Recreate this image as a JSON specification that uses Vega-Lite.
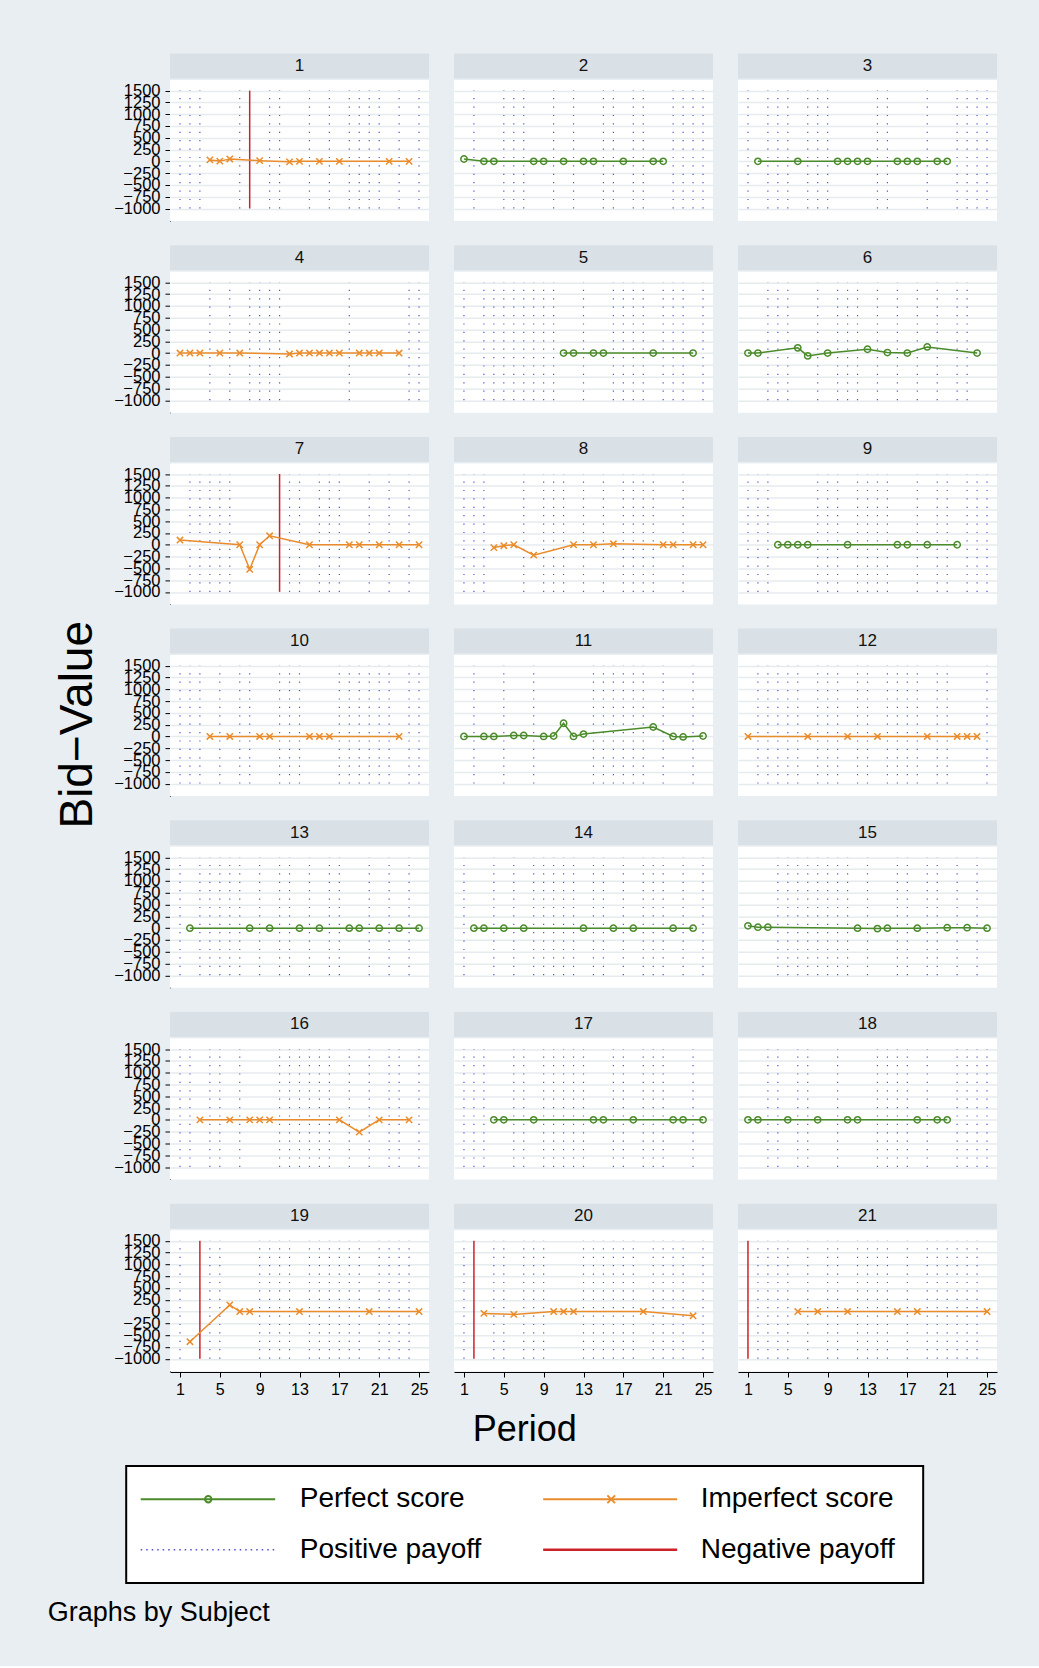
{
"$schema": "https://vega.github.io/schema/vega-lite/v6.json",
"background": "#e9eef2",
"padding": {"left": 47, "top": 52, "right": 0, "bottom": 40},
"config": {
  "font": "Liberation Sans",
  "view": {"fill": "white", "stroke": null},
  "axis": {"labelFont": "Liberation Sans", "labelColor": "#000000", "domainColor": "#000000", "tickColor": "#000000", "domainWidth": 1, "tickWidth": 1, "tickSize": 5, "labelOverlap": false, "labelFlush": false, "labelBound": false},
  "axisX": {"grid": false, "labelFontSize": 16, "labelPadding": 4},
  "axisY": {"grid": true, "gridColor": "#e6ebee", "gridWidth": 1.5, "labelFontSize": 16.5, "labelPadding": 5},
  "title": {"color": "#000000", "fontWeight": "normal", "font": "Liberation Sans"},
  "text": {"font": "Liberation Sans"}
},
"title": {"text": "Graphs by Subject", "orient": "bottom", "anchor": "start", "fontSize": 27, "offset": 16, "dx": -7},
"datasets": {
"legend": [
{"series":"perfect","label":"Perfect score","kind":"score"},
{"series":"imperfect","label":"Imperfect score","kind":"score"},
{"series":"positive","label":"Positive payoff","kind":"payoff"},
{"series":"negative","label":"Negative payoff","kind":"payoff"}
],
"panels": [
{"subject":1,"period":4,"series":"imperfect","bid":30},
{"subject":1,"period":5,"series":"imperfect","bid":5},
{"subject":1,"period":6,"series":"imperfect","bid":50},
{"subject":1,"period":9,"series":"imperfect","bid":15},
{"subject":1,"period":12,"series":"imperfect","bid":-10},
{"subject":1,"period":13,"series":"imperfect","bid":0},
{"subject":1,"period":15,"series":"imperfect","bid":0},
{"subject":1,"period":17,"series":"imperfect","bid":0},
{"subject":1,"period":22,"series":"imperfect","bid":0},
{"subject":1,"period":24,"series":"imperfect","bid":0},
{"subject":1,"period":1,"series":"positive"},
{"subject":1,"period":2,"series":"positive"},
{"subject":1,"period":3,"series":"positive"},
{"subject":1,"period":7,"series":"positive"},
{"subject":1,"period":8,"series":"negative"},
{"subject":1,"period":10,"series":"positive"},
{"subject":1,"period":11,"series":"positive"},
{"subject":1,"period":14,"series":"positive"},
{"subject":1,"period":16,"series":"positive"},
{"subject":1,"period":18,"series":"positive"},
{"subject":1,"period":19,"series":"positive"},
{"subject":1,"period":20,"series":"positive"},
{"subject":1,"period":21,"series":"positive"},
{"subject":1,"period":23,"series":"positive"},
{"subject":1,"period":25,"series":"positive"},

{"subject":2,"period":1,"series":"perfect","bid":50},
{"subject":2,"period":3,"series":"perfect","bid":0},
{"subject":2,"period":4,"series":"perfect","bid":0},
{"subject":2,"period":8,"series":"perfect","bid":0},
{"subject":2,"period":9,"series":"perfect","bid":0},
{"subject":2,"period":11,"series":"perfect","bid":0},
{"subject":2,"period":13,"series":"perfect","bid":0},
{"subject":2,"period":14,"series":"perfect","bid":0},
{"subject":2,"period":17,"series":"perfect","bid":0},
{"subject":2,"period":20,"series":"perfect","bid":0},
{"subject":2,"period":21,"series":"perfect","bid":0},
{"subject":2,"period":2,"series":"positive"},
{"subject":2,"period":5,"series":"positive"},
{"subject":2,"period":6,"series":"positive"},
{"subject":2,"period":7,"series":"positive"},
{"subject":2,"period":10,"series":"positive"},
{"subject":2,"period":12,"series":"positive"},
{"subject":2,"period":15,"series":"positive"},
{"subject":2,"period":16,"series":"positive"},
{"subject":2,"period":18,"series":"positive"},
{"subject":2,"period":19,"series":"positive"},
{"subject":2,"period":22,"series":"positive"},
{"subject":2,"period":23,"series":"positive"},
{"subject":2,"period":24,"series":"positive"},
{"subject":2,"period":25,"series":"positive"},

{"subject":3,"period":2,"series":"perfect","bid":0},
{"subject":3,"period":6,"series":"perfect","bid":0},
{"subject":3,"period":10,"series":"perfect","bid":0},
{"subject":3,"period":11,"series":"perfect","bid":0},
{"subject":3,"period":12,"series":"perfect","bid":0},
{"subject":3,"period":13,"series":"perfect","bid":0},
{"subject":3,"period":16,"series":"perfect","bid":0},
{"subject":3,"period":17,"series":"perfect","bid":0},
{"subject":3,"period":18,"series":"perfect","bid":0},
{"subject":3,"period":20,"series":"perfect","bid":0},
{"subject":3,"period":21,"series":"perfect","bid":0},
{"subject":3,"period":1,"series":"positive"},
{"subject":3,"period":3,"series":"positive"},
{"subject":3,"period":4,"series":"positive"},
{"subject":3,"period":5,"series":"positive"},
{"subject":3,"period":7,"series":"positive"},
{"subject":3,"period":8,"series":"positive"},
{"subject":3,"period":9,"series":"positive"},
{"subject":3,"period":14,"series":"positive"},
{"subject":3,"period":15,"series":"positive"},
{"subject":3,"period":19,"series":"positive"},
{"subject":3,"period":22,"series":"positive"},
{"subject":3,"period":23,"series":"positive"},
{"subject":3,"period":24,"series":"positive"},
{"subject":3,"period":25,"series":"positive"},

{"subject":4,"period":1,"series":"imperfect","bid":0},
{"subject":4,"period":2,"series":"imperfect","bid":0},
{"subject":4,"period":3,"series":"imperfect","bid":0},
{"subject":4,"period":5,"series":"imperfect","bid":0},
{"subject":4,"period":7,"series":"imperfect","bid":0},
{"subject":4,"period":12,"series":"imperfect","bid":-20},
{"subject":4,"period":13,"series":"imperfect","bid":0},
{"subject":4,"period":14,"series":"imperfect","bid":0},
{"subject":4,"period":15,"series":"imperfect","bid":0},
{"subject":4,"period":16,"series":"imperfect","bid":0},
{"subject":4,"period":17,"series":"imperfect","bid":0},
{"subject":4,"period":19,"series":"imperfect","bid":0},
{"subject":4,"period":20,"series":"imperfect","bid":0},
{"subject":4,"period":21,"series":"imperfect","bid":0},
{"subject":4,"period":23,"series":"imperfect","bid":0},
{"subject":4,"period":4,"series":"positive"},
{"subject":4,"period":6,"series":"positive"},
{"subject":4,"period":8,"series":"positive"},
{"subject":4,"period":9,"series":"positive"},
{"subject":4,"period":10,"series":"positive"},
{"subject":4,"period":11,"series":"positive"},
{"subject":4,"period":18,"series":"positive"},
{"subject":4,"period":24,"series":"positive"},
{"subject":4,"period":25,"series":"positive"},

{"subject":5,"period":11,"series":"perfect","bid":0},
{"subject":5,"period":12,"series":"perfect","bid":0},
{"subject":5,"period":14,"series":"perfect","bid":0},
{"subject":5,"period":15,"series":"perfect","bid":0},
{"subject":5,"period":20,"series":"perfect","bid":0},
{"subject":5,"period":24,"series":"perfect","bid":0},
{"subject":5,"period":1,"series":"positive"},
{"subject":5,"period":3,"series":"positive"},
{"subject":5,"period":4,"series":"positive"},
{"subject":5,"period":5,"series":"positive"},
{"subject":5,"period":6,"series":"positive"},
{"subject":5,"period":7,"series":"positive"},
{"subject":5,"period":8,"series":"positive"},
{"subject":5,"period":9,"series":"positive"},
{"subject":5,"period":10,"series":"positive"},
{"subject":5,"period":13,"series":"positive"},
{"subject":5,"period":16,"series":"positive"},
{"subject":5,"period":17,"series":"positive"},
{"subject":5,"period":18,"series":"positive"},
{"subject":5,"period":19,"series":"positive"},
{"subject":5,"period":21,"series":"positive"},
{"subject":5,"period":22,"series":"positive"},
{"subject":5,"period":23,"series":"positive"},
{"subject":5,"period":25,"series":"positive"},

{"subject":6,"period":1,"series":"perfect","bid":0},
{"subject":6,"period":2,"series":"perfect","bid":0},
{"subject":6,"period":6,"series":"perfect","bid":110},
{"subject":6,"period":7,"series":"perfect","bid":-60},
{"subject":6,"period":9,"series":"perfect","bid":0},
{"subject":6,"period":13,"series":"perfect","bid":80},
{"subject":6,"period":15,"series":"perfect","bid":10},
{"subject":6,"period":17,"series":"perfect","bid":0},
{"subject":6,"period":19,"series":"perfect","bid":130},
{"subject":6,"period":24,"series":"perfect","bid":0},
{"subject":6,"period":3,"series":"positive"},
{"subject":6,"period":4,"series":"positive"},
{"subject":6,"period":5,"series":"positive"},
{"subject":6,"period":8,"series":"positive"},
{"subject":6,"period":10,"series":"positive"},
{"subject":6,"period":11,"series":"positive"},
{"subject":6,"period":12,"series":"positive"},
{"subject":6,"period":14,"series":"positive"},
{"subject":6,"period":16,"series":"positive"},
{"subject":6,"period":18,"series":"positive"},
{"subject":6,"period":20,"series":"positive"},
{"subject":6,"period":22,"series":"positive"},
{"subject":6,"period":23,"series":"positive"},

{"subject":7,"period":1,"series":"imperfect","bid":100},
{"subject":7,"period":7,"series":"imperfect","bid":0},
{"subject":7,"period":8,"series":"imperfect","bid":-520},
{"subject":7,"period":9,"series":"imperfect","bid":0},
{"subject":7,"period":10,"series":"imperfect","bid":190},
{"subject":7,"period":14,"series":"imperfect","bid":0},
{"subject":7,"period":18,"series":"imperfect","bid":0},
{"subject":7,"period":19,"series":"imperfect","bid":0},
{"subject":7,"period":21,"series":"imperfect","bid":0},
{"subject":7,"period":23,"series":"imperfect","bid":0},
{"subject":7,"period":25,"series":"imperfect","bid":0},
{"subject":7,"period":2,"series":"positive"},
{"subject":7,"period":3,"series":"positive"},
{"subject":7,"period":4,"series":"positive"},
{"subject":7,"period":5,"series":"positive"},
{"subject":7,"period":6,"series":"positive"},
{"subject":7,"period":11,"series":"negative"},
{"subject":7,"period":12,"series":"positive"},
{"subject":7,"period":13,"series":"positive"},
{"subject":7,"period":15,"series":"positive"},
{"subject":7,"period":16,"series":"positive"},
{"subject":7,"period":17,"series":"positive"},
{"subject":7,"period":20,"series":"positive"},
{"subject":7,"period":22,"series":"positive"},
{"subject":7,"period":24,"series":"positive"},

{"subject":8,"period":4,"series":"imperfect","bid":-60},
{"subject":8,"period":5,"series":"imperfect","bid":-20},
{"subject":8,"period":6,"series":"imperfect","bid":0},
{"subject":8,"period":8,"series":"imperfect","bid":-220},
{"subject":8,"period":12,"series":"imperfect","bid":0},
{"subject":8,"period":14,"series":"imperfect","bid":0},
{"subject":8,"period":16,"series":"imperfect","bid":20},
{"subject":8,"period":21,"series":"imperfect","bid":0},
{"subject":8,"period":22,"series":"imperfect","bid":0},
{"subject":8,"period":24,"series":"imperfect","bid":0},
{"subject":8,"period":25,"series":"imperfect","bid":0},
{"subject":8,"period":1,"series":"positive"},
{"subject":8,"period":2,"series":"positive"},
{"subject":8,"period":3,"series":"positive"},
{"subject":8,"period":7,"series":"positive"},
{"subject":8,"period":9,"series":"positive"},
{"subject":8,"period":10,"series":"positive"},
{"subject":8,"period":11,"series":"positive"},
{"subject":8,"period":13,"series":"positive"},
{"subject":8,"period":15,"series":"positive"},
{"subject":8,"period":17,"series":"positive"},
{"subject":8,"period":18,"series":"positive"},
{"subject":8,"period":19,"series":"positive"},
{"subject":8,"period":20,"series":"positive"},
{"subject":8,"period":23,"series":"positive"},

{"subject":9,"period":4,"series":"perfect","bid":0},
{"subject":9,"period":5,"series":"perfect","bid":0},
{"subject":9,"period":6,"series":"perfect","bid":0},
{"subject":9,"period":7,"series":"perfect","bid":0},
{"subject":9,"period":11,"series":"perfect","bid":0},
{"subject":9,"period":16,"series":"perfect","bid":0},
{"subject":9,"period":17,"series":"perfect","bid":0},
{"subject":9,"period":19,"series":"perfect","bid":0},
{"subject":9,"period":22,"series":"perfect","bid":0},
{"subject":9,"period":1,"series":"positive"},
{"subject":9,"period":2,"series":"positive"},
{"subject":9,"period":3,"series":"positive"},
{"subject":9,"period":8,"series":"positive"},
{"subject":9,"period":9,"series":"positive"},
{"subject":9,"period":10,"series":"positive"},
{"subject":9,"period":12,"series":"positive"},
{"subject":9,"period":13,"series":"positive"},
{"subject":9,"period":14,"series":"positive"},
{"subject":9,"period":15,"series":"positive"},
{"subject":9,"period":18,"series":"positive"},
{"subject":9,"period":20,"series":"positive"},
{"subject":9,"period":21,"series":"positive"},
{"subject":9,"period":23,"series":"positive"},
{"subject":9,"period":24,"series":"positive"},
{"subject":9,"period":25,"series":"positive"},

{"subject":10,"period":4,"series":"imperfect","bid":0},
{"subject":10,"period":6,"series":"imperfect","bid":0},
{"subject":10,"period":9,"series":"imperfect","bid":0},
{"subject":10,"period":10,"series":"imperfect","bid":0},
{"subject":10,"period":14,"series":"imperfect","bid":0},
{"subject":10,"period":15,"series":"imperfect","bid":0},
{"subject":10,"period":16,"series":"imperfect","bid":0},
{"subject":10,"period":23,"series":"imperfect","bid":0},
{"subject":10,"period":1,"series":"positive"},
{"subject":10,"period":2,"series":"positive"},
{"subject":10,"period":3,"series":"positive"},
{"subject":10,"period":5,"series":"positive"},
{"subject":10,"period":7,"series":"positive"},
{"subject":10,"period":8,"series":"positive"},
{"subject":10,"period":11,"series":"positive"},
{"subject":10,"period":12,"series":"positive"},
{"subject":10,"period":13,"series":"positive"},
{"subject":10,"period":17,"series":"positive"},
{"subject":10,"period":18,"series":"positive"},
{"subject":10,"period":19,"series":"positive"},
{"subject":10,"period":20,"series":"positive"},
{"subject":10,"period":21,"series":"positive"},
{"subject":10,"period":22,"series":"positive"},
{"subject":10,"period":24,"series":"positive"},
{"subject":10,"period":25,"series":"positive"},

{"subject":11,"period":1,"series":"perfect","bid":0},
{"subject":11,"period":3,"series":"perfect","bid":0},
{"subject":11,"period":4,"series":"perfect","bid":0},
{"subject":11,"period":6,"series":"perfect","bid":20},
{"subject":11,"period":7,"series":"perfect","bid":20},
{"subject":11,"period":9,"series":"perfect","bid":0},
{"subject":11,"period":10,"series":"perfect","bid":10},
{"subject":11,"period":11,"series":"perfect","bid":280},
{"subject":11,"period":12,"series":"perfect","bid":0},
{"subject":11,"period":13,"series":"perfect","bid":50},
{"subject":11,"period":20,"series":"perfect","bid":200},
{"subject":11,"period":22,"series":"perfect","bid":0},
{"subject":11,"period":23,"series":"perfect","bid":-10},
{"subject":11,"period":25,"series":"perfect","bid":10},
{"subject":11,"period":2,"series":"positive"},
{"subject":11,"period":5,"series":"positive"},
{"subject":11,"period":8,"series":"positive"},
{"subject":11,"period":14,"series":"positive"},
{"subject":11,"period":15,"series":"positive"},
{"subject":11,"period":16,"series":"positive"},
{"subject":11,"period":17,"series":"positive"},
{"subject":11,"period":18,"series":"positive"},
{"subject":11,"period":19,"series":"positive"},
{"subject":11,"period":21,"series":"positive"},
{"subject":11,"period":24,"series":"positive"},

{"subject":12,"period":1,"series":"imperfect","bid":0},
{"subject":12,"period":7,"series":"imperfect","bid":0},
{"subject":12,"period":11,"series":"imperfect","bid":0},
{"subject":12,"period":14,"series":"imperfect","bid":0},
{"subject":12,"period":19,"series":"imperfect","bid":0},
{"subject":12,"period":22,"series":"imperfect","bid":0},
{"subject":12,"period":23,"series":"imperfect","bid":0},
{"subject":12,"period":24,"series":"imperfect","bid":0},
{"subject":12,"period":2,"series":"positive"},
{"subject":12,"period":3,"series":"positive"},
{"subject":12,"period":4,"series":"positive"},
{"subject":12,"period":5,"series":"positive"},
{"subject":12,"period":6,"series":"positive"},
{"subject":12,"period":8,"series":"positive"},
{"subject":12,"period":9,"series":"positive"},
{"subject":12,"period":10,"series":"positive"},
{"subject":12,"period":12,"series":"positive"},
{"subject":12,"period":13,"series":"positive"},
{"subject":12,"period":15,"series":"positive"},
{"subject":12,"period":16,"series":"positive"},
{"subject":12,"period":17,"series":"positive"},
{"subject":12,"period":18,"series":"positive"},
{"subject":12,"period":20,"series":"positive"},
{"subject":12,"period":21,"series":"positive"},
{"subject":12,"period":25,"series":"positive"},

{"subject":13,"period":2,"series":"perfect","bid":0},
{"subject":13,"period":8,"series":"perfect","bid":0},
{"subject":13,"period":10,"series":"perfect","bid":0},
{"subject":13,"period":13,"series":"perfect","bid":0},
{"subject":13,"period":15,"series":"perfect","bid":0},
{"subject":13,"period":18,"series":"perfect","bid":0},
{"subject":13,"period":19,"series":"perfect","bid":0},
{"subject":13,"period":21,"series":"perfect","bid":0},
{"subject":13,"period":23,"series":"perfect","bid":0},
{"subject":13,"period":25,"series":"perfect","bid":0},
{"subject":13,"period":1,"series":"positive"},
{"subject":13,"period":3,"series":"positive"},
{"subject":13,"period":4,"series":"positive"},
{"subject":13,"period":5,"series":"positive"},
{"subject":13,"period":6,"series":"positive"},
{"subject":13,"period":7,"series":"positive"},
{"subject":13,"period":9,"series":"positive"},
{"subject":13,"period":11,"series":"positive"},
{"subject":13,"period":12,"series":"positive"},
{"subject":13,"period":14,"series":"positive"},
{"subject":13,"period":16,"series":"positive"},
{"subject":13,"period":17,"series":"positive"},
{"subject":13,"period":20,"series":"positive"},
{"subject":13,"period":22,"series":"positive"},
{"subject":13,"period":24,"series":"positive"},

{"subject":14,"period":2,"series":"perfect","bid":0},
{"subject":14,"period":3,"series":"perfect","bid":0},
{"subject":14,"period":5,"series":"perfect","bid":0},
{"subject":14,"period":7,"series":"perfect","bid":0},
{"subject":14,"period":13,"series":"perfect","bid":0},
{"subject":14,"period":16,"series":"perfect","bid":0},
{"subject":14,"period":18,"series":"perfect","bid":0},
{"subject":14,"period":22,"series":"perfect","bid":0},
{"subject":14,"period":24,"series":"perfect","bid":0},
{"subject":14,"period":1,"series":"positive"},
{"subject":14,"period":4,"series":"positive"},
{"subject":14,"period":6,"series":"positive"},
{"subject":14,"period":8,"series":"positive"},
{"subject":14,"period":9,"series":"positive"},
{"subject":14,"period":10,"series":"positive"},
{"subject":14,"period":11,"series":"positive"},
{"subject":14,"period":12,"series":"positive"},
{"subject":14,"period":14,"series":"positive"},
{"subject":14,"period":15,"series":"positive"},
{"subject":14,"period":17,"series":"positive"},
{"subject":14,"period":19,"series":"positive"},
{"subject":14,"period":20,"series":"positive"},
{"subject":14,"period":21,"series":"positive"},
{"subject":14,"period":23,"series":"positive"},
{"subject":14,"period":25,"series":"positive"},

{"subject":15,"period":1,"series":"perfect","bid":50},
{"subject":15,"period":2,"series":"perfect","bid":20},
{"subject":15,"period":3,"series":"perfect","bid":20},
{"subject":15,"period":12,"series":"perfect","bid":0},
{"subject":15,"period":14,"series":"perfect","bid":-10},
{"subject":15,"period":15,"series":"perfect","bid":0},
{"subject":15,"period":18,"series":"perfect","bid":0},
{"subject":15,"period":21,"series":"perfect","bid":10},
{"subject":15,"period":23,"series":"perfect","bid":10},
{"subject":15,"period":25,"series":"perfect","bid":0},
{"subject":15,"period":4,"series":"positive"},
{"subject":15,"period":5,"series":"positive"},
{"subject":15,"period":6,"series":"positive"},
{"subject":15,"period":7,"series":"positive"},
{"subject":15,"period":8,"series":"positive"},
{"subject":15,"period":9,"series":"positive"},
{"subject":15,"period":10,"series":"positive"},
{"subject":15,"period":11,"series":"positive"},
{"subject":15,"period":13,"series":"positive"},
{"subject":15,"period":16,"series":"positive"},
{"subject":15,"period":17,"series":"positive"},
{"subject":15,"period":19,"series":"positive"},
{"subject":15,"period":20,"series":"positive"},
{"subject":15,"period":22,"series":"positive"},
{"subject":15,"period":24,"series":"positive"},

{"subject":16,"period":3,"series":"imperfect","bid":0},
{"subject":16,"period":6,"series":"imperfect","bid":0},
{"subject":16,"period":8,"series":"imperfect","bid":0},
{"subject":16,"period":9,"series":"imperfect","bid":0},
{"subject":16,"period":10,"series":"imperfect","bid":0},
{"subject":16,"period":17,"series":"imperfect","bid":0},
{"subject":16,"period":19,"series":"imperfect","bid":-260},
{"subject":16,"period":21,"series":"imperfect","bid":0},
{"subject":16,"period":24,"series":"imperfect","bid":0},
{"subject":16,"period":1,"series":"positive"},
{"subject":16,"period":2,"series":"positive"},
{"subject":16,"period":4,"series":"positive"},
{"subject":16,"period":5,"series":"positive"},
{"subject":16,"period":7,"series":"positive"},
{"subject":16,"period":11,"series":"positive"},
{"subject":16,"period":12,"series":"positive"},
{"subject":16,"period":13,"series":"positive"},
{"subject":16,"period":14,"series":"positive"},
{"subject":16,"period":15,"series":"positive"},
{"subject":16,"period":16,"series":"positive"},
{"subject":16,"period":18,"series":"positive"},
{"subject":16,"period":20,"series":"positive"},
{"subject":16,"period":22,"series":"positive"},
{"subject":16,"period":23,"series":"positive"},
{"subject":16,"period":25,"series":"positive"},

{"subject":17,"period":4,"series":"perfect","bid":0},
{"subject":17,"period":5,"series":"perfect","bid":0},
{"subject":17,"period":8,"series":"perfect","bid":0},
{"subject":17,"period":14,"series":"perfect","bid":0},
{"subject":17,"period":15,"series":"perfect","bid":0},
{"subject":17,"period":18,"series":"perfect","bid":0},
{"subject":17,"period":22,"series":"perfect","bid":0},
{"subject":17,"period":23,"series":"perfect","bid":0},
{"subject":17,"period":25,"series":"perfect","bid":0},
{"subject":17,"period":1,"series":"positive"},
{"subject":17,"period":2,"series":"positive"},
{"subject":17,"period":3,"series":"positive"},
{"subject":17,"period":6,"series":"positive"},
{"subject":17,"period":7,"series":"positive"},
{"subject":17,"period":9,"series":"positive"},
{"subject":17,"period":10,"series":"positive"},
{"subject":17,"period":11,"series":"positive"},
{"subject":17,"period":12,"series":"positive"},
{"subject":17,"period":13,"series":"positive"},
{"subject":17,"period":16,"series":"positive"},
{"subject":17,"period":17,"series":"positive"},
{"subject":17,"period":19,"series":"positive"},
{"subject":17,"period":20,"series":"positive"},
{"subject":17,"period":21,"series":"positive"},
{"subject":17,"period":24,"series":"positive"},

{"subject":18,"period":1,"series":"perfect","bid":0},
{"subject":18,"period":2,"series":"perfect","bid":0},
{"subject":18,"period":5,"series":"perfect","bid":0},
{"subject":18,"period":8,"series":"perfect","bid":0},
{"subject":18,"period":11,"series":"perfect","bid":0},
{"subject":18,"period":12,"series":"perfect","bid":0},
{"subject":18,"period":18,"series":"perfect","bid":0},
{"subject":18,"period":20,"series":"perfect","bid":0},
{"subject":18,"period":21,"series":"perfect","bid":0},
{"subject":18,"period":3,"series":"positive"},
{"subject":18,"period":4,"series":"positive"},
{"subject":18,"period":6,"series":"positive"},
{"subject":18,"period":7,"series":"positive"},
{"subject":18,"period":10,"series":"positive"},
{"subject":18,"period":14,"series":"positive"},
{"subject":18,"period":15,"series":"positive"},
{"subject":18,"period":16,"series":"positive"},
{"subject":18,"period":17,"series":"positive"},
{"subject":18,"period":19,"series":"positive"},
{"subject":18,"period":22,"series":"positive"},
{"subject":18,"period":23,"series":"positive"},
{"subject":18,"period":24,"series":"positive"},
{"subject":18,"period":25,"series":"positive"},

{"subject":19,"period":2,"series":"imperfect","bid":-640},
{"subject":19,"period":6,"series":"imperfect","bid":140},
{"subject":19,"period":7,"series":"imperfect","bid":0},
{"subject":19,"period":8,"series":"imperfect","bid":0},
{"subject":19,"period":13,"series":"imperfect","bid":0},
{"subject":19,"period":20,"series":"imperfect","bid":0},
{"subject":19,"period":25,"series":"imperfect","bid":0},
{"subject":19,"period":1,"series":"positive"},
{"subject":19,"period":3,"series":"negative"},
{"subject":19,"period":4,"series":"positive"},
{"subject":19,"period":5,"series":"positive"},
{"subject":19,"period":9,"series":"positive"},
{"subject":19,"period":10,"series":"positive"},
{"subject":19,"period":11,"series":"positive"},
{"subject":19,"period":12,"series":"positive"},
{"subject":19,"period":14,"series":"positive"},
{"subject":19,"period":15,"series":"positive"},
{"subject":19,"period":16,"series":"positive"},
{"subject":19,"period":17,"series":"positive"},
{"subject":19,"period":18,"series":"positive"},
{"subject":19,"period":19,"series":"positive"},
{"subject":19,"period":21,"series":"positive"},
{"subject":19,"period":22,"series":"positive"},
{"subject":19,"period":23,"series":"positive"},
{"subject":19,"period":24,"series":"positive"},

{"subject":20,"period":3,"series":"imperfect","bid":-40},
{"subject":20,"period":6,"series":"imperfect","bid":-60},
{"subject":20,"period":10,"series":"imperfect","bid":0},
{"subject":20,"period":11,"series":"imperfect","bid":0},
{"subject":20,"period":12,"series":"imperfect","bid":0},
{"subject":20,"period":19,"series":"imperfect","bid":0},
{"subject":20,"period":24,"series":"imperfect","bid":-90},
{"subject":20,"period":1,"series":"positive"},
{"subject":20,"period":2,"series":"negative"},
{"subject":20,"period":4,"series":"positive"},
{"subject":20,"period":5,"series":"positive"},
{"subject":20,"period":7,"series":"positive"},
{"subject":20,"period":8,"series":"positive"},
{"subject":20,"period":9,"series":"positive"},
{"subject":20,"period":13,"series":"positive"},
{"subject":20,"period":14,"series":"positive"},
{"subject":20,"period":15,"series":"positive"},
{"subject":20,"period":16,"series":"positive"},
{"subject":20,"period":17,"series":"positive"},
{"subject":20,"period":18,"series":"positive"},
{"subject":20,"period":20,"series":"positive"},
{"subject":20,"period":21,"series":"positive"},
{"subject":20,"period":22,"series":"positive"},
{"subject":20,"period":23,"series":"positive"},
{"subject":20,"period":25,"series":"positive"},

{"subject":21,"period":6,"series":"imperfect","bid":0},
{"subject":21,"period":8,"series":"imperfect","bid":0},
{"subject":21,"period":11,"series":"imperfect","bid":0},
{"subject":21,"period":16,"series":"imperfect","bid":0},
{"subject":21,"period":18,"series":"imperfect","bid":0},
{"subject":21,"period":25,"series":"imperfect","bid":0},
{"subject":21,"period":1,"series":"negative"},
{"subject":21,"period":2,"series":"positive"},
{"subject":21,"period":3,"series":"positive"},
{"subject":21,"period":4,"series":"positive"},
{"subject":21,"period":5,"series":"positive"},
{"subject":21,"period":7,"series":"positive"},
{"subject":21,"period":9,"series":"positive"},
{"subject":21,"period":10,"series":"positive"},
{"subject":21,"period":12,"series":"positive"},
{"subject":21,"period":13,"series":"positive"},
{"subject":21,"period":14,"series":"positive"},
{"subject":21,"period":15,"series":"positive"},
{"subject":21,"period":17,"series":"positive"},
{"subject":21,"period":19,"series":"positive"},
{"subject":21,"period":20,"series":"positive"},
{"subject":21,"period":21,"series":"positive"},
{"subject":21,"period":22,"series":"positive"},
{"subject":21,"period":23,"series":"positive"},
{"subject":21,"period":24,"series":"positive"}
]
},
"center": true,
"spacing": 15,
"vconcat": [
{
  "data": {"name": "panels"},
  "facet": {"field": "subject", "type": "ordinal", "header": {"title": null, "labelExpr": "''", "labelFontSize": 1, "labelPadding": 0}},
  "columns": 3,
  "spacing": {"row": 50.7, "column": 25},
  "bounds": "flush",
  "title": {"text": "Bid−Value", "orient": "left", "anchor": "middle", "frame": "bounds", "fontSize": 46, "offset": 12},
  "spec": {
    "width": 259,
    "height": 141,
    "layer": [
      {
        "transform": [{"aggregate": [{"op": "count", "as": "n"}], "groupby": ["subject"]}],
        "mark": {"type": "rect", "fill": "#d9e1e7"},
        "encoding": {
          "x": {"datum": 0, "type": "quantitative", "title": null, "scale": {"domain": [0, 26], "nice": false, "zero": false}, "axis": {"values": [1, 5, 9, 13, 17, 21, 25], "labelOverlap": false}},
          "x2": {"datum": 26},
          "y": {"datum": 1757, "type": "quantitative", "title": null, "scale": {"domain": [-1265, 1725], "nice": false, "zero": false}, "axis": {"values": [-1000, -750, -500, -250, 0, 250, 500, 750, 1000, 1250, 1500], "format": "d", "labelOverlap": false}},
          "y2": {"datum": 2287}
        }
      },
      {
        "transform": [{"aggregate": [{"op": "count", "as": "n"}], "groupby": ["subject"]}],
        "mark": {"type": "text", "fontSize": 17, "color": "#111111", "baseline": "middle", "align": "center"},
        "encoding": {
          "x": {"datum": 13, "type": "quantitative", "title": null, "scale": {"domain": [0, 26], "nice": false, "zero": false}, "axis": {"values": [1, 5, 9, 13, 17, 21, 25], "labelOverlap": false}},
          "y": {"datum": 2022, "type": "quantitative", "title": null, "scale": {"domain": [-1265, 1725], "nice": false, "zero": false}, "axis": {"values": [-1000, -750, -500, -250, 0, 250, 500, 750, 1000, 1250, 1500], "format": "d", "labelOverlap": false}},
          "text": {"field": "subject", "type": "nominal"}
        }
      },
      {
        "transform": [{"filter": "datum.series === 'positive'"}],
        "mark": {"type": "rule", "color": "#5050d0", "strokeWidth": 1.2, "strokeDash": [1.2, 7.2]},
        "encoding": {
          "x": {"field": "period", "type": "quantitative", "title": null, "scale": {"domain": [0, 26], "nice": false, "zero": false}, "axis": {"values": [1, 5, 9, 13, 17, 21, 25], "labelOverlap": false}},
          "y": {"datum": -1000, "type": "quantitative", "title": null, "scale": {"domain": [-1265, 1725], "nice": false, "zero": false}, "axis": {"values": [-1000, -750, -500, -250, 0, 250, 500, 750, 1000, 1250, 1500], "format": "d", "labelOverlap": false}},
          "y2": {"datum": 1500}
        }
      },
      {
        "transform": [{"filter": "datum.series === 'negative'"}],
        "mark": {"type": "rule", "color": "#cc2229", "strokeWidth": 1.5},
        "encoding": {
          "x": {"field": "period", "type": "quantitative", "title": null, "scale": {"domain": [0, 26], "nice": false, "zero": false}, "axis": {"values": [1, 5, 9, 13, 17, 21, 25], "labelOverlap": false}},
          "y": {"datum": -1000, "type": "quantitative", "title": null, "scale": {"domain": [-1265, 1725], "nice": false, "zero": false}, "axis": {"values": [-1000, -750, -500, -250, 0, 250, 500, 750, 1000, 1250, 1500], "format": "d", "labelOverlap": false}},
          "y2": {"datum": 1500}
        }
      },
      {
        "transform": [{"filter": "datum.bid != null"}],
        "mark": {"type": "line", "strokeWidth": 1.5},
        "encoding": {
          "x": {"field": "period", "type": "quantitative", "title": null, "scale": {"domain": [0, 26], "nice": false, "zero": false}, "axis": {"values": [1, 5, 9, 13, 17, 21, 25], "labelOverlap": false}},
          "y": {"field": "bid", "type": "quantitative", "title": null, "scale": {"domain": [-1265, 1725], "nice": false, "zero": false}, "axis": {"values": [-1000, -750, -500, -250, 0, 250, 500, 750, 1000, 1250, 1500], "format": "d", "labelOverlap": false}},
          "color": {"field": "series", "type": "nominal", "scale": {"domain": ["perfect", "imperfect"], "range": ["#4b8b2b", "#ea8c2c"]}, "legend": null}
        }
      },
      {
        "transform": [{"filter": "datum.bid != null"}],
        "mark": {"type": "point", "filled": false, "strokeWidth": 1.5, "size": 40, "opacity": 1},
        "encoding": {
          "x": {"field": "period", "type": "quantitative", "title": null, "scale": {"domain": [0, 26], "nice": false, "zero": false}, "axis": {"values": [1, 5, 9, 13, 17, 21, 25], "labelOverlap": false}},
          "y": {"field": "bid", "type": "quantitative", "title": null, "scale": {"domain": [-1265, 1725], "nice": false, "zero": false}, "axis": {"values": [-1000, -750, -500, -250, 0, 250, 500, 750, 1000, 1250, 1500], "format": "d", "labelOverlap": false}},
          "color": {"field": "series", "type": "nominal", "scale": {"domain": ["perfect", "imperfect"], "range": ["#4b8b2b", "#ea8c2c"]}, "legend": null},
          "shape": {"field": "series", "type": "nominal", "scale": {"domain": ["perfect", "imperfect"], "range": ["circle", "M-1,-1L1,1M-1,1L1,-1"]}, "legend": null}
        }
      }
    ]
  }
},
{
  "data": {"name": "legend"},
  "width": 914.6,
  "height": 117,
  "view": {"fill": null, "stroke": null},
  "title": {"text": "Period", "fontSize": 36, "anchor": "middle", "offset": 16, "dx": -58.8},
  "encoding": {
    "y": {"field": "kind", "type": "nominal", "scale": {"type": "point", "domain": ["score", "payoff"], "padding": 0.66}, "axis": null}
  },
  "layer": [
    {
      "transform": [{"aggregate": [{"op": "count", "as": "n"}]}],
      "mark": {"type": "rect", "fill": "white", "stroke": "#000000", "strokeWidth": 2},
      "encoding": {"x": {"datum": 0, "type": "quantitative", "scale": {"domain": [0, 100], "nice": false}, "axis": null}, "x2": {"datum": 87.14}, "y": null}
    },
    {
      "transform": [{"filter": "datum.series === 'perfect'"}],
      "mark": {"type": "rule", "color": "#4b8b2b", "strokeWidth": 2},
      "encoding": {"x": {"datum": 1.585, "type": "quantitative", "scale": {"domain": [0, 100], "nice": false}, "axis": null}, "x2": {"datum": 16.29}}
    },
    {
      "transform": [{"filter": "datum.series === 'positive'"}],
      "mark": {"type": "rule", "color": "#5050d0", "strokeWidth": 1.5, "strokeDash": [1.5, 4]},
      "encoding": {"x": {"datum": 1.585, "type": "quantitative", "scale": {"domain": [0, 100], "nice": false}, "axis": null}, "x2": {"datum": 16.29}}
    },
    {
      "transform": [{"filter": "datum.series === 'imperfect'"}],
      "mark": {"type": "rule", "color": "#ea8c2c", "strokeWidth": 2},
      "encoding": {"x": {"datum": 45.59, "type": "quantitative", "scale": {"domain": [0, 100], "nice": false}, "axis": null}, "x2": {"datum": 60.24}}
    },
    {
      "transform": [{"filter": "datum.series === 'negative'"}],
      "mark": {"type": "rule", "color": "#cc2229", "strokeWidth": 2.5},
      "encoding": {"x": {"datum": 45.59, "type": "quantitative", "scale": {"domain": [0, 100], "nice": false}, "axis": null}, "x2": {"datum": 60.24}}
    },
    {
      "transform": [{"filter": "datum.series === 'perfect'"}],
      "mark": {"type": "point", "shape": "circle", "filled": false, "color": "#4b8b2b", "strokeWidth": 2, "size": 40, "opacity": 1},
      "encoding": {"x": {"datum": 8.97, "type": "quantitative", "scale": {"domain": [0, 100], "nice": false}, "axis": null}}
    },
    {
      "transform": [{"filter": "datum.series === 'imperfect'"}],
      "mark": {"type": "point", "shape": "M-1,-1L1,1M-1,1L1,-1", "filled": false, "color": "#ea8c2c", "strokeWidth": 2, "size": 60, "opacity": 1},
      "encoding": {"x": {"datum": 53.03, "type": "quantitative", "scale": {"domain": [0, 100], "nice": false}, "axis": null}}
    },
    {
      "transform": [{"filter": "datum.series === 'perfect' || datum.series === 'positive'"}],
      "mark": {"type": "text", "align": "left", "baseline": "middle", "fontSize": 28, "color": "#000000"},
      "encoding": {"x": {"datum": 18.97, "type": "quantitative", "scale": {"domain": [0, 100], "nice": false}, "axis": null}, "text": {"field": "label", "type": "nominal"}}
    },
    {
      "transform": [{"filter": "datum.series === 'imperfect' || datum.series === 'negative'"}],
      "mark": {"type": "text", "align": "left", "baseline": "middle", "fontSize": 28, "color": "#000000"},
      "encoding": {"x": {"datum": 62.81, "type": "quantitative", "scale": {"domain": [0, 100], "nice": false}, "axis": null}, "text": {"field": "label", "type": "nominal"}}
    }
  ]
}
]
}
